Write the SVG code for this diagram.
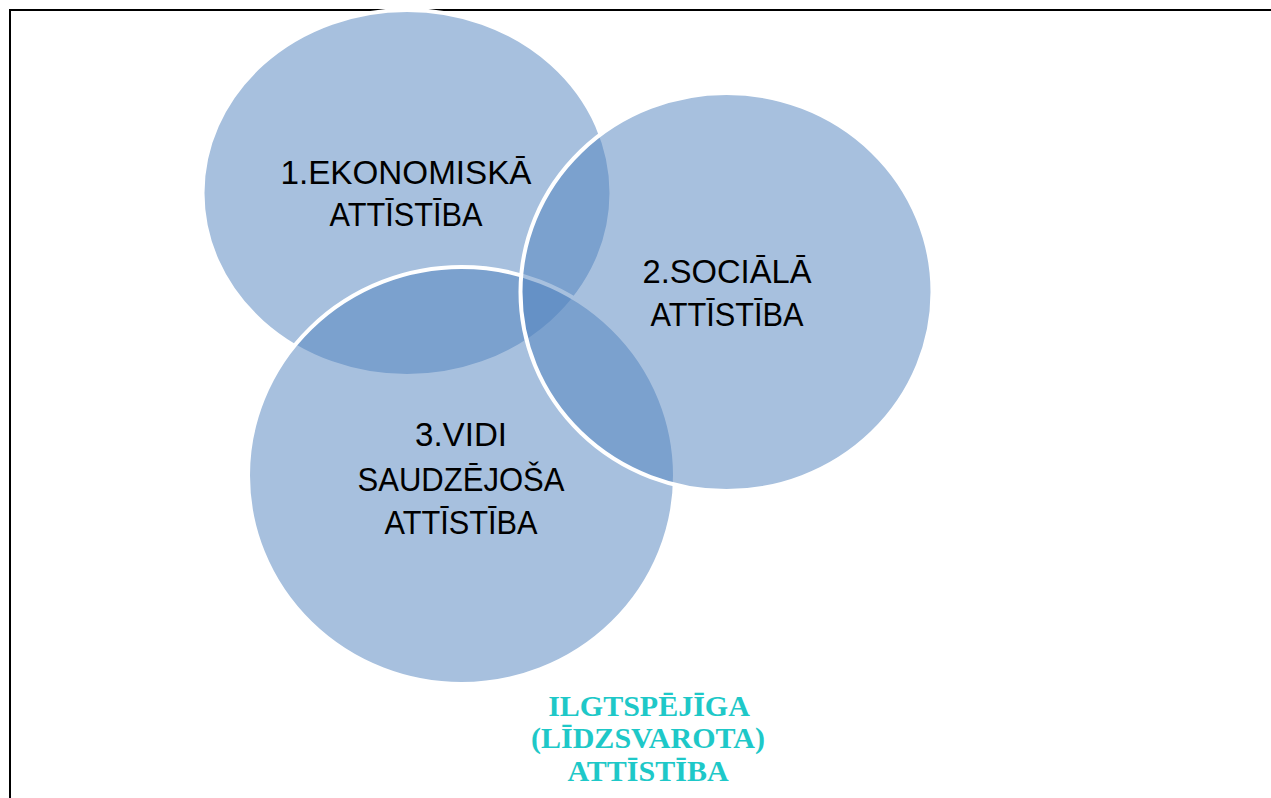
<svg xmlns="http://www.w3.org/2000/svg" width="1271" height="798" viewBox="0 0 1271 798">
<style>
.bubble{fill:#4F81BD;fill-opacity:0.5;stroke:#FFFFFF;stroke-width:4}
.lbl{font-family:"Liberation Sans",Arial,sans-serif;font-size:34px;fill:#000000;text-anchor:middle}
.title{font-family:"Liberation Serif","Times New Roman",serif;font-size:30px;font-weight:bold;fill:#1EC8C8;text-anchor:middle}
</style>
<rect width="1271" height="798" fill="#FFFFFF"/>
<rect x="10" y="10" width="1272" height="800" fill="none" stroke="#000000" stroke-width="2"/>
<g id="connectors"/>
<g id="node-ekonomiska">
<ellipse class="bubble" cx="407" cy="193" rx="204.5" ry="183"/>
</g>
<g id="node-vidi">
<ellipse class="bubble" cx="461.5" cy="475.5" rx="213.5" ry="208.5"/>
</g>
<g id="node-sociala">
<ellipse class="bubble" cx="726.5" cy="292" rx="206" ry="199"/>
</g>
<g id="labels">
<text class="lbl" x="406" y="184" textLength="251" lengthAdjust="spacingAndGlyphs">1.EKONOMISKĀ</text>
<text class="lbl" x="406" y="226" textLength="153" lengthAdjust="spacingAndGlyphs">ATTĪSTĪBA</text>
<text class="lbl" x="727" y="283" textLength="169" lengthAdjust="spacingAndGlyphs">2.SOCIĀLĀ</text>
<text class="lbl" x="727" y="326" textLength="153" lengthAdjust="spacingAndGlyphs">ATTĪSTĪBA</text>
<text class="lbl" x="461" y="446" textLength="92" lengthAdjust="spacingAndGlyphs">3.VIDI</text>
<text class="lbl" x="461" y="491" textLength="207" lengthAdjust="spacingAndGlyphs">SAUDZĒJOŠA</text>
<text class="lbl" x="461" y="534" textLength="153" lengthAdjust="spacingAndGlyphs">ATTĪSTĪBA</text>
</g>
<g id="node-title">
<text class="title" x="649" y="716">ILGTSPĒJĪGA</text>
<text class="title" x="648" y="748">(LĪDZSVAROTA)</text>
<text class="title" x="648" y="781">ATTĪSTĪBA</text>
</g>
</svg>
